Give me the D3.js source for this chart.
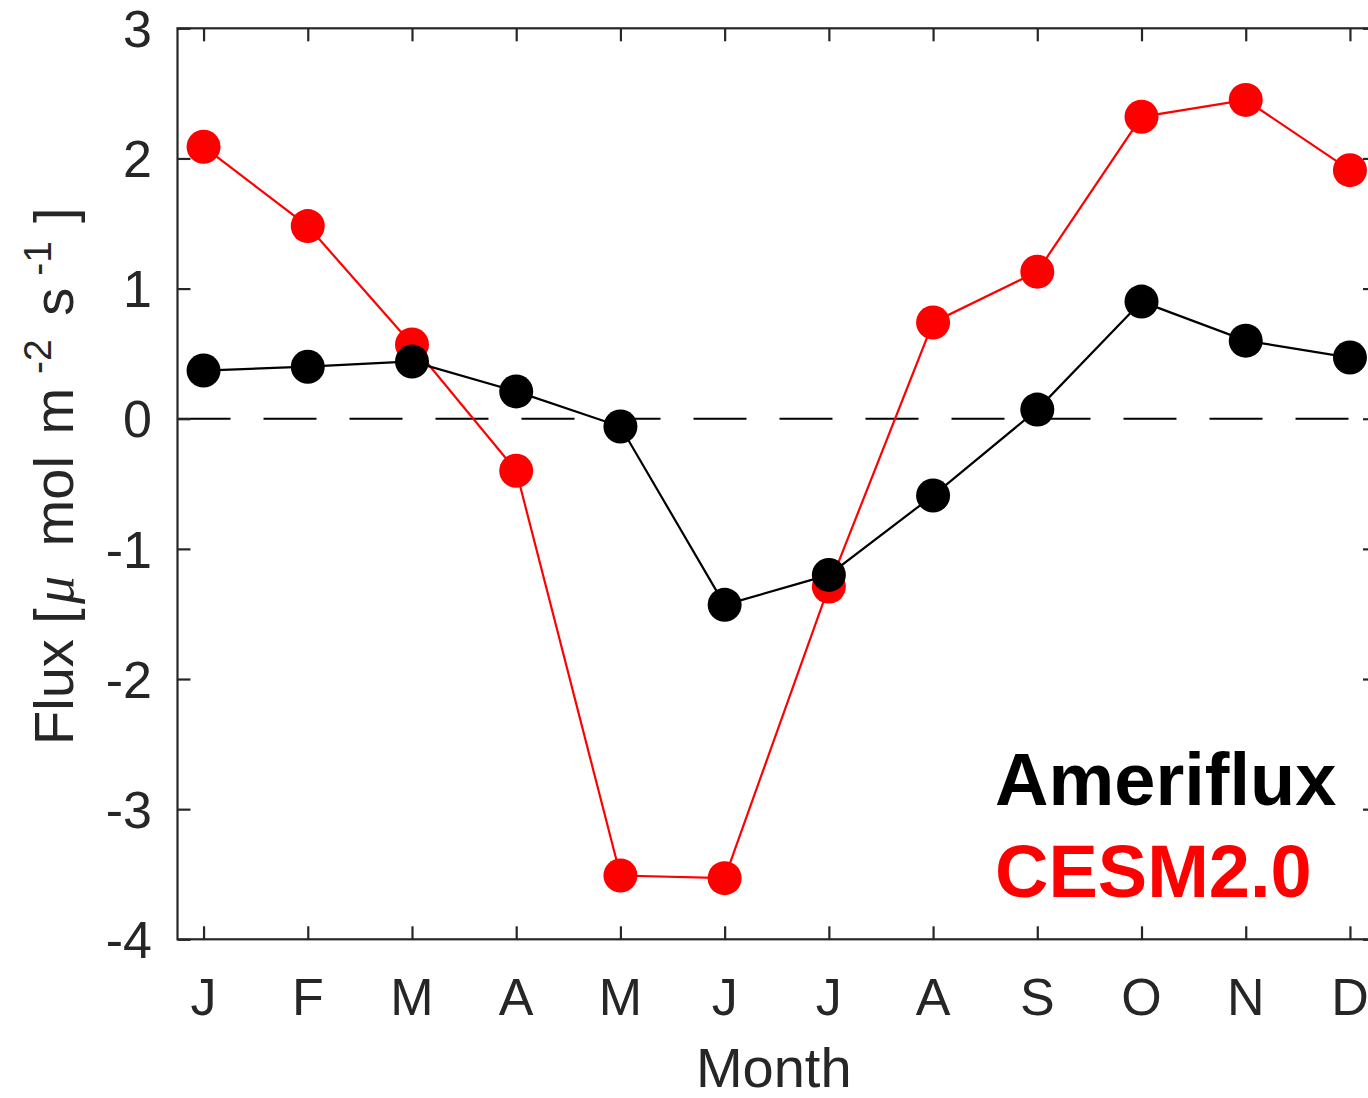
<!DOCTYPE html>
<html>
<head>
<meta charset="utf-8">
<script src="https://cdn.jsdelivr.net/npm/d3@7"></script>
<style>
  html, body { margin: 0; padding: 0; background: #fff; }
  svg { display: block; }
  text { font-family: "Liberation Sans", Arial, Helvetica, sans-serif; }
</style>
</head>
<body>
<script>
// Monthly mean flux, Ameriflux observations vs. CESM2.0 model
const months = [1, 2, 3, 4, 5, 6, 7, 8, 9, 10, 11, 12];
const monthLabels = ["J", "F", "M", "A", "M", "J", "J", "A", "S", "O", "N", "D"];
const ameriflux = [0.37, 0.40, 0.44, 0.21, -0.06, -1.43, -1.20, -0.59, 0.07, 0.90, 0.60, 0.47];
const cesm = [2.09, 1.48, 0.57, -0.40, -3.51, -3.53, -1.29, 0.74, 1.13, 2.32, 2.45, 1.91];
const yTicks = [-4, -3, -2, -1, 0, 1, 2, 3];

const W = 1368, H = 1098;
const axisColor = "#262626";

const svg = d3.select("body").append("svg")
  .attr("width", W).attr("height", H);

const x = d3.scaleLinear().domain([0.75, 12.25]).range([177.5, 1376]);
const y = d3.scaleLinear().domain([-4, 3]).range([939.3, 28.3]);

const [x0, x1] = x.range();
const [yb, yt] = y.range();
const tickLen = 13;

// zero reference line
svg.append("line")
  .attr("x1", x0).attr("x2", x1)
  .attr("y1", y(0)).attr("y2", y(0))
  .attr("stroke", "#000").attr("stroke-width", 2)
  .attr("stroke-dasharray", "53,33");

// series: lines then markers
function drawSeries(values, color) {
  const line = d3.line().x((d, i) => x(months[i])).y(d => y(d));
  svg.append("path")
    .datum(values)
    .attr("d", line)
    .attr("fill", "none")
    .attr("stroke", color)
    .attr("stroke-width", 2.2);
  svg.append("g").selectAll("circle")
    .data(values)
    .join("circle")
    .attr("cx", (d, i) => x(months[i]))
    .attr("cy", d => y(d))
    .attr("r", 17)
    .attr("fill", color);
}
drawSeries(cesm, "#ff0000");
drawSeries(ameriflux, "#000000");

// axes box with inward ticks
const axes = svg.append("g")
  .attr("stroke", axisColor).attr("stroke-width", 2.2).attr("fill", "none");
axes.append("rect")
  .attr("x", x0).attr("y", yt)
  .attr("width", x1 - x0).attr("height", yb - yt);

const bottomAxis = d3.axisBottom(x).tickValues(months).tickFormat("").tickSize(-tickLen).tickSizeOuter(0);
const topAxis = d3.axisTop(x).tickValues(months).tickFormat("").tickSize(-tickLen).tickSizeOuter(0);
const leftAxis = d3.axisLeft(y).tickValues(yTicks).tickFormat("").tickSize(-tickLen).tickSizeOuter(0);
const rightAxis = d3.axisRight(y).tickValues(yTicks).tickFormat("").tickSize(-tickLen).tickSizeOuter(0);

function styleAxis(g) {
  g.select(".domain").remove();
  g.selectAll(".tick line").attr("stroke", axisColor).attr("stroke-width", 2.2);
}
svg.append("g").attr("transform", `translate(0,${yb})`).call(bottomAxis).call(styleAxis);
svg.append("g").attr("transform", `translate(0,${yt})`).call(topAxis).call(styleAxis);
svg.append("g").attr("transform", `translate(${x0},0)`).call(leftAxis).call(styleAxis);
svg.append("g").attr("transform", `translate(${x1},0)`).call(rightAxis).call(styleAxis);

// tick labels
svg.append("g").selectAll("text")
  .data(months)
  .join("text")
  .attr("x", d => x(d))
  .attr("y", 1015)
  .attr("text-anchor", "middle")
  .attr("font-size", 52)
  .attr("fill", axisColor)
  .text((d, i) => monthLabels[i]);

svg.append("g").selectAll("text")
  .data(yTicks)
  .join("text")
  .attr("x", 152)
  .attr("y", d => y(d))
  .attr("dy", "0.36em")
  .attr("text-anchor", "end")
  .attr("font-size", 52)
  .attr("fill", axisColor)
  .text(d => d3.format("")(d).replace("−", "-"));

// axis titles
svg.append("text")
  .attr("x", (x0 + x1) / 2 - 3)
  .attr("y", 1087)
  .attr("text-anchor", "middle")
  .attr("font-size", 56)
  .attr("fill", axisColor)
  .text("Month");

const yl = svg.append("text")
  .attr("transform", "translate(73,745) rotate(-90)")
  .attr("text-anchor", "start")
  .attr("font-size", 56)
  .attr("fill", axisColor);
yl.append("tspan").text("Flux [");
yl.append("tspan").attr("dx", 4)
  .attr("font-family", "'Liberation Serif', 'DejaVu Serif', serif")
  .attr("font-style", "italic").text("\u03BC");
yl.append("tspan").attr("dx", 14).text(" mol");
yl.append("tspan").attr("dx", 6).text(" m");
yl.append("tspan").attr("font-size", 39).attr("dy", -22).attr("dx", 14).text("-2");
yl.append("tspan").attr("dy", 22).attr("dx", 8).text(" s");
yl.append("tspan").attr("font-size", 39).attr("dy", -22).attr("dx", 12).text("-1");
yl.append("tspan").attr("dy", 22).attr("dx", 18).text("]");

// legend labels
svg.append("text")
  .attr("x", 995).attr("y", 805)
  .attr("font-size", 74).attr("font-weight", "bold")
  .attr("fill", "#000").text("Ameriflux");
svg.append("text")
  .attr("x", 995).attr("y", 897)
  .attr("font-size", 74).attr("font-weight", "bold")
  .attr("fill", "#ff0000").text("CESM2.0");
</script>
</body>
</html>
